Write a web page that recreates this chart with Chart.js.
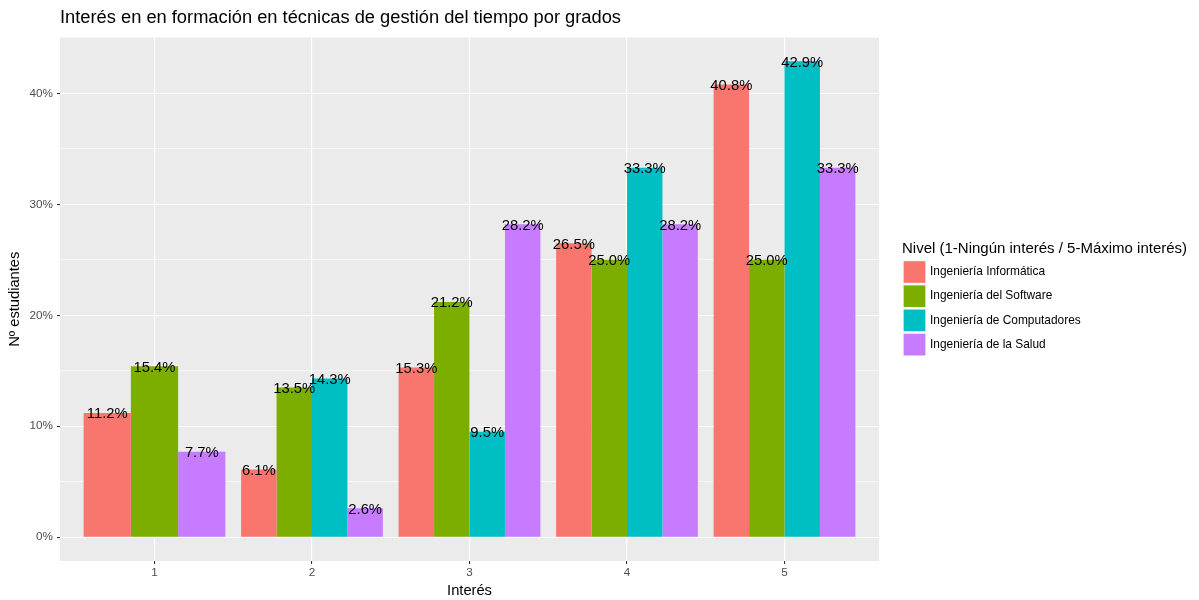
<!DOCTYPE html>
<html>
<head>
<meta charset="utf-8">
<script src="https://cdn.jsdelivr.net/npm/chart.js@4.4.1/dist/chart.umd.min.js"></script>
<style>
html,body{margin:0;padding:0;background:#fff;}
#wrap{width:1199px;height:600px;position:relative;}
</style>
</head>
<body>
<div id="wrap"><canvas id="c" width="1199" height="600"></canvas></div>
<script>
const categories = [1, 2, 3, 4, 5];
const seriesNames = ["Ingeniería Informática", "Ingeniería del Software", "Ingeniería de Computadores", "Ingeniería de la Salud"];
const informatica = [11.2, 6.1, 15.3, 26.5, 40.8];
const software = [15.4, 13.5, 21.2, 25.0, 25.0];
const computadores = [null, 14.3, 9.5, 33.3, 42.9];
const salud = [7.7, 2.6, 28.2, 28.2, 33.3];
const colors = ["#F8766D", "#7CAE00", "#00BFC4", "#C77CFF"];
const yTicks = [0, 5, 10, 15, 20, 25, 30, 35, 40];
const yMajor = [0, 10, 20, 30, 40];

const title = "Interés en en formación en técnicas de gestión del tiempo por grados";
const xTitle = "Interés";
const yTitle = "Nº estudiantes";
const legendTitle = "Nivel (1-Ningún interés / 5-Máximo interés)";

const FONT = "'Liberation Sans', Arial, sans-serif";
const allSeries = [informatica, software, computadores, salud];

const datasets = allSeries.map((arr, i) => ({
  label: seriesNames[i],
  data: categories.map((c, j) => ({x: c, y: arr[j]})),
  backgroundColor: colors[i],
  borderWidth: 0,
  categoryPercentage: 0.9,
  barPercentage: 1.0,
  skipNull: true
}));

const decor = {
  id: 'decor',
  beforeDraw(chart) {
    const {ctx, chartArea: a} = chart;
    ctx.save();
    ctx.fillStyle = '#fff';
    ctx.fillRect(0, 0, chart.width, chart.height);
    ctx.fillStyle = '#EBEBEB';
    ctx.fillRect(a.left, a.top, a.right - a.left, a.bottom - a.top);
    ctx.restore();
  },
  afterDatasetsDraw(chart) {
    const ctx = chart.ctx;
    ctx.save();
    ctx.fillStyle = '#000';
    const fs = 14.8;
    ctx.font = `${fs}px ${FONT}`;
    ctx.textAlign = 'center';
    ctx.textBaseline = 'alphabetic';
    chart.data.datasets.forEach((ds, i) => {
      const meta = chart.getDatasetMeta(i);
      meta.data.forEach((el, j) => {
        const v = ds.data[j].y;
        if (v === null || v === undefined) return;
        ctx.fillText(v.toFixed(1) + '%', el.x, el.y + 0.358 * fs);
      });
    });
    ctx.restore();
  },
  afterDraw(chart) {
    const {ctx, chartArea: a} = chart;
    ctx.save();
    // title
    ctx.fillStyle = '#000';
    ctx.font = `18.3px ${FONT}`;
    ctx.textAlign = 'left';
    ctx.textBaseline = 'middle';
    ctx.fillText(title, a.left, 18);
    // axis titles
    ctx.font = `14.7px ${FONT}`;
    ctx.textAlign = 'center';
    ctx.fillText(xTitle, (a.left + a.right) / 2, 591);
    ctx.save();
    ctx.translate(15, (a.top + a.bottom) / 2);
    ctx.rotate(-Math.PI / 2);
    ctx.fillText(yTitle, 0, 0);
    ctx.restore();
    // legend
    ctx.textAlign = 'left';
    ctx.font = `15px ${FONT}`;
    ctx.fillText(legendTitle, 902, 249);
    const keyTop = 260.5, pitch = 24.2, kx = 903, ks = 23;
    seriesNames.forEach((n, i) => {
      const y = keyTop + i * pitch;
      ctx.fillStyle = '#F2F2F2';
      ctx.fillRect(kx, y, ks, ks);
      ctx.fillStyle = colors[i];
      ctx.fillRect(kx + 0.7, y + 0.7, ks - 1.4, ks - 1.4);
      ctx.fillStyle = '#000';
      ctx.font = `11.9px ${FONT}`;
      ctx.fillText(n, 930, y + ks / 2);
    });
    ctx.restore();
  }
};

new Chart(document.getElementById('c'), {
  type: 'bar',
  data: {datasets},
  options: {
    responsive: false,
    animation: false,
    devicePixelRatio: 1,
    layout: {padding: {left: 0, right: 320, top: 37.5, bottom: 0}},
    plugins: {legend: {display: false}, tooltip: {enabled: false}, title: {display: false}},
    scales: {
      x: {
        type: 'linear',
        min: 0.4,
        max: 5.6,
        offset: false,
        afterFit(s) { s.height = 39; },
        afterBuildTicks(s) { s.ticks = categories.map(v => ({value: v})); },
        border: {display: false},
        grid: {offset: false, color: '#FFFFFF', lineWidth: 1.1, tickLength: 3, tickColor: '#333333', tickWidth: 1.1, drawTicks: true},
        ticks: {color: '#4D4D4D', font: {family: FONT, size: 11.7}, padding: 2, maxRotation: 0, autoSkip: false, callback: v => String(v)}
      },
      y: {
        type: 'linear',
        min: -2.145,
        max: 45.045,
        afterFit(s) { s.width = 60; },
        afterBuildTicks(s) { s.ticks = yTicks.map(v => ({value: v})); },
        border: {display: false},
        grid: {
          color: '#FFFFFF',
          lineWidth: c => (yMajor.includes(c.tick && c.tick.value) ? 1.1 : 0.55),
          tickLength: 3,
          tickColor: c => (yMajor.includes(c.tick && c.tick.value) ? '#333333' : 'rgba(0,0,0,0)'),
          tickWidth: 1.1
        },
        ticks: {
          color: '#4D4D4D', font: {family: FONT, size: 11.7}, padding: 4, autoSkip: false,
          callback: v => (yMajor.includes(v) ? v + '%' : '')
        }
      }
    }
  },
  plugins: [decor]
});
</script>
</body>
</html>
